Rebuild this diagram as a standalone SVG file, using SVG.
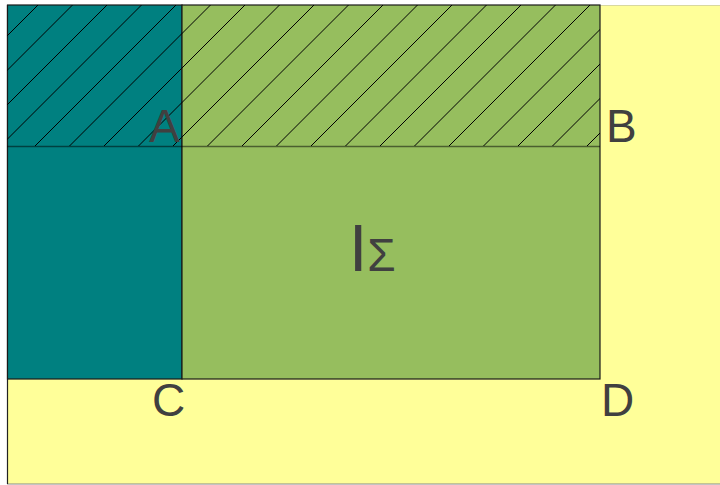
<svg xmlns="http://www.w3.org/2000/svg" width="720" height="485" viewBox="0 0 720 485">
  <style>
    .lbl { font-family: "Liberation Sans", Arial, sans-serif; fill: #404040; }
    .edge { stroke: #1a1a1a; stroke-width: 1.2; }
  </style>
  <defs>
    <clipPath id="hatchClip">
      <rect x="7" y="5" width="593" height="141"/>
    </clipPath>
  </defs>
  <rect width="720" height="485" fill="#ffffff"/>
  <g id="background">
    <rect x="7" y="5" width="713" height="479" fill="#ffff99"/>
    <line x1="7" y1="5.5" x2="720" y2="5.5" stroke="#d8d8a0" stroke-width="1"/>
    <line x1="7" y1="484" x2="720" y2="484" stroke="#888888" stroke-width="1"/>
    <line x1="7.5" y1="5" x2="7.5" y2="484" stroke="#222222" stroke-width="1.2"/>
  </g>
  <g id="region-left">
    <rect x="7.5" y="5" width="174.5" height="374" fill="#008080" class="edge"/>
  </g>
  <g id="region-main">
    <rect x="182" y="5" width="418" height="374" fill="#96be5e" class="edge"/>
  </g>
  <g id="hatched-strip">
    <g clip-path="url(#hatchClip)" stroke="#000000" stroke-width="1" fill="none">
      <path d="M-103,146L38,5 M-68.5,146L72.5,5 M-34,146L107,5 M0.5,146L141.5,5 M35,146L176,5 M69.5,146L210.5,5 M104,146L245,5 M138.5,146L279.5,5 M173,146L314,5 M207.5,146L348.5,5 M242,146L383,5 M276.5,146L417.5,5 M311,146L452,5 M345.5,146L486.5,5 M380,146L521,5 M414.5,146L555.5,5 M449,146L590,5 M483.5,146L624.5,5 M518,146L659,5 M552.5,146L693.5,5 M587,146L728,5"/>
    </g>
    <line x1="7" y1="146.5" x2="600" y2="146.5" stroke="#000000" stroke-opacity="0.5" stroke-width="1.5"/>
  </g>
  <g id="labels">
    <text class="lbl" x="149" y="142" font-size="46">A</text>
    <text class="lbl" x="606" y="142" font-size="46">B</text>
    <text class="lbl" x="152" y="416" font-size="46">C</text>
    <text class="lbl" x="601" y="416" font-size="46">D</text>
    <text class="lbl" x="349" y="271"><tspan font-size="66">I</tspan><tspan font-size="46">Σ</tspan></text>
  </g>
</svg>
